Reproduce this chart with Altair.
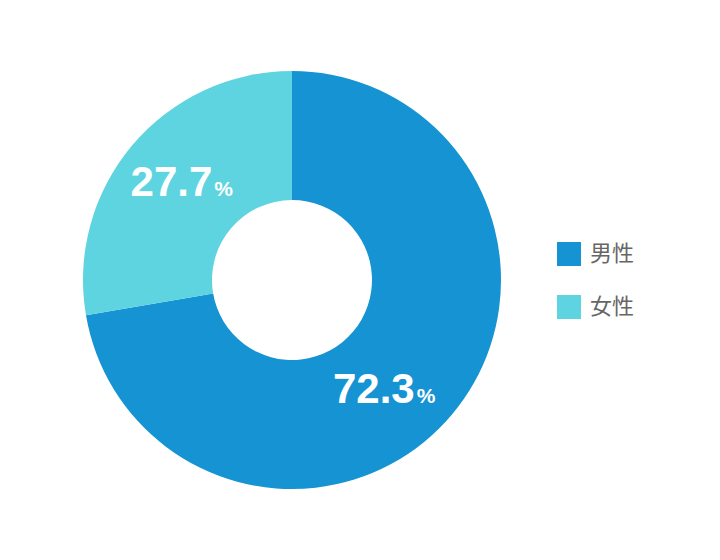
import altair as alt
import pandas as pd

categories = ["男性", "女性"]
values = [72.3, 27.7]
order = [0, 1]
colors = ["#1593d2", "#5dd4e0"]

df = pd.DataFrame({"cat": categories, "value": values, "order": order})
df["label"] = [f"{v:.1f}" for v in values]

base = alt.Chart(df)

theta_scale = alt.Scale(domain=[0, 100], range=[0, 6.283185307])

arcs = base.mark_arc(outerRadius=209, innerRadius=80).encode(
    theta=alt.Theta("value:Q", stack=True),
    order=alt.Order("order:Q"),
    color=alt.Color(
        "cat:N",
        scale=alt.Scale(domain=categories, range=colors),
        sort=categories,
        legend=alt.Legend(
            title=None,
            orient="none",
            legendX=544,
            legendY=229,
            symbolType="square",
            symbolSize=576,
            symbolStrokeWidth=0,
            labelFont="Noto Sans CJK JP",
            labelFontSize=22,
            labelColor="#666666",
            labelOffset=9,
            rowPadding=29,
        ),
    ),
)

stacked = base.transform_window(
    cum="sum(value)", sort=[alt.SortField("order")], frame=[None, 0]
).transform_calculate(mid="datum.cum - datum.value / 2")


def label_layer(cat, dx, dy):
    sub = stacked.transform_filter(alt.datum.cat == cat)
    num = sub.mark_text(
        radius=150, align="right", baseline="alphabetic", dx=dx, dy=dy,
        font="Liberation Sans", fontWeight="bold", fontSize=42, color="white",
    ).encode(theta=alt.Theta("mid:Q", scale=theta_scale, stack=None), text="label:N")
    pct = sub.mark_text(
        radius=150, align="left", baseline="alphabetic", dx=dx + 2, dy=dy,
        font="Liberation Sans", fontWeight="bold", fontSize=21, color="white",
    ).encode(theta=alt.Theta("mid:Q", scale=theta_scale, stack=None), text=alt.value("%"))
    return num + pct


chart = alt.layer(
    arcs,
    label_layer("男性", 8, 26),
    label_layer("女性", 35, 13),
).properties(width=558, height=534).configure_view(stroke=None).resolve_scale(theta="independent")

chart.save("out.html", embed_options={"renderer": "svg", "actions": False})
